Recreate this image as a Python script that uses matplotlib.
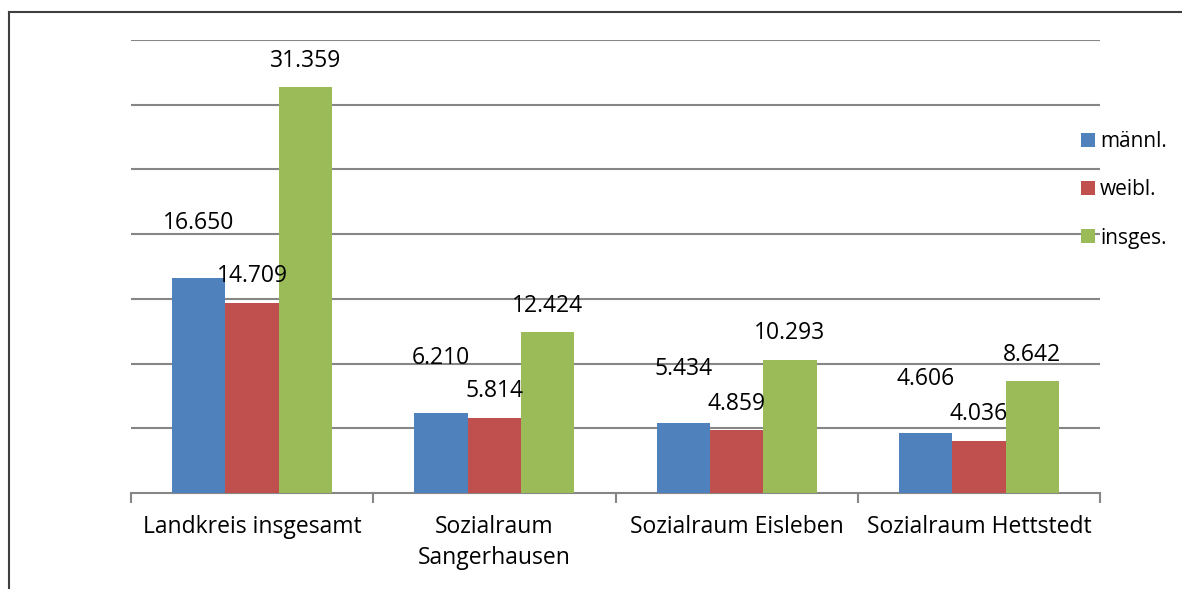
import numpy as np
import matplotlib.pyplot as plt
from matplotlib.lines import Line2D

# Daten
kategorien = ["Landkreis insgesamt", "Sozialraum\nSangerhausen",
              "Sozialraum Eisleben", "Sozialraum Hettstedt"]
maennl = [16650, 6210, 5434, 4606]
weibl = [14709, 5814, 4859, 4036]
insges = [31359, 12424, 10293, 8642]

serien = ["männl.", "weibl.", "insges."]
farben = ["#4F81BD", "#C0504D", "#9BBB59"]

plt.rcParams['font.family'] = ['Open Sans', 'DejaVu Sans']

fig = plt.figure(figsize=(11.82, 5.89), dpi=100)
ax = fig.add_axes([131/1182, 1-493/589, (1100-131)/1182, (493-40)/589])

x = np.arange(len(kategorien))
breite = 0.22

def fmt(v):
    return f"{v:,}".replace(",", ".")

werte = [maennl, weibl, insges]
for i, (name, daten, farbe) in enumerate(zip(serien, werte, farben)):
    pos = x + (i - 1) * breite
    ax.bar(pos, daten, breite, color=farbe, label=name, zorder=3)
    # Beschriftungen wie im Original (männl. weiter oben)
    off = 39 if i == 0 else 19
    for p, v in zip(pos, daten):
        ax.annotate(fmt(v), (p, v), xytext=(0, off), textcoords="offset points",
                    ha="center", va="center", fontsize=16.5, zorder=4)

ax.set_xlim(-0.5, len(kategorien) - 0.5)
ax.set_ylim(0, 35000)
ax.set_yticks(np.arange(5000, 35001, 5000))
ax.yaxis.grid(True, color="#868686", linewidth=1.5, zorder=0)
ax.tick_params(axis="y", left=False, labelleft=False)

for s in ["top", "right", "left"]:
    ax.spines[s].set_visible(False)
ax.spines["bottom"].set_color("#868686")
ax.spines["bottom"].set_linewidth(1.5)

ax.set_xticks(np.arange(-0.5, len(kategorien)), minor=False)
ax.set_xticklabels([])
ax.tick_params(axis="x", which="major", length=7, width=1.5, color="#868686")
ax.set_xticks(x, minor=True)
ax.set_xticklabels(kategorien, minor=True, fontsize=16.5, linespacing=1.35, va="top")
ax.tick_params(axis="x", which="minor", length=0, pad=16)

leg = ax.legend(loc="center left", bbox_to_anchor=(1073/1182, 1-190/589),
                bbox_transform=fig.transFigure, frameon=False, fontsize=15,
                handlelength=0.65, handleheight=0.65, handletextpad=0.25,
                labelspacing=1.3, borderaxespad=0)
leg.set_zorder(5)

# Rahmen links und oben
fig.add_artist(Line2D([8.5/1182, 8.5/1182], [0, 1-11.5/589],
                      transform=fig.transFigure, color="#404040", linewidth=1.5))
fig.add_artist(Line2D([8.5/1182, 1], [1-11.5/589, 1-11.5/589],
                      transform=fig.transFigure, color="#404040", linewidth=1.5))

fig.savefig("out.png", dpi=100)
